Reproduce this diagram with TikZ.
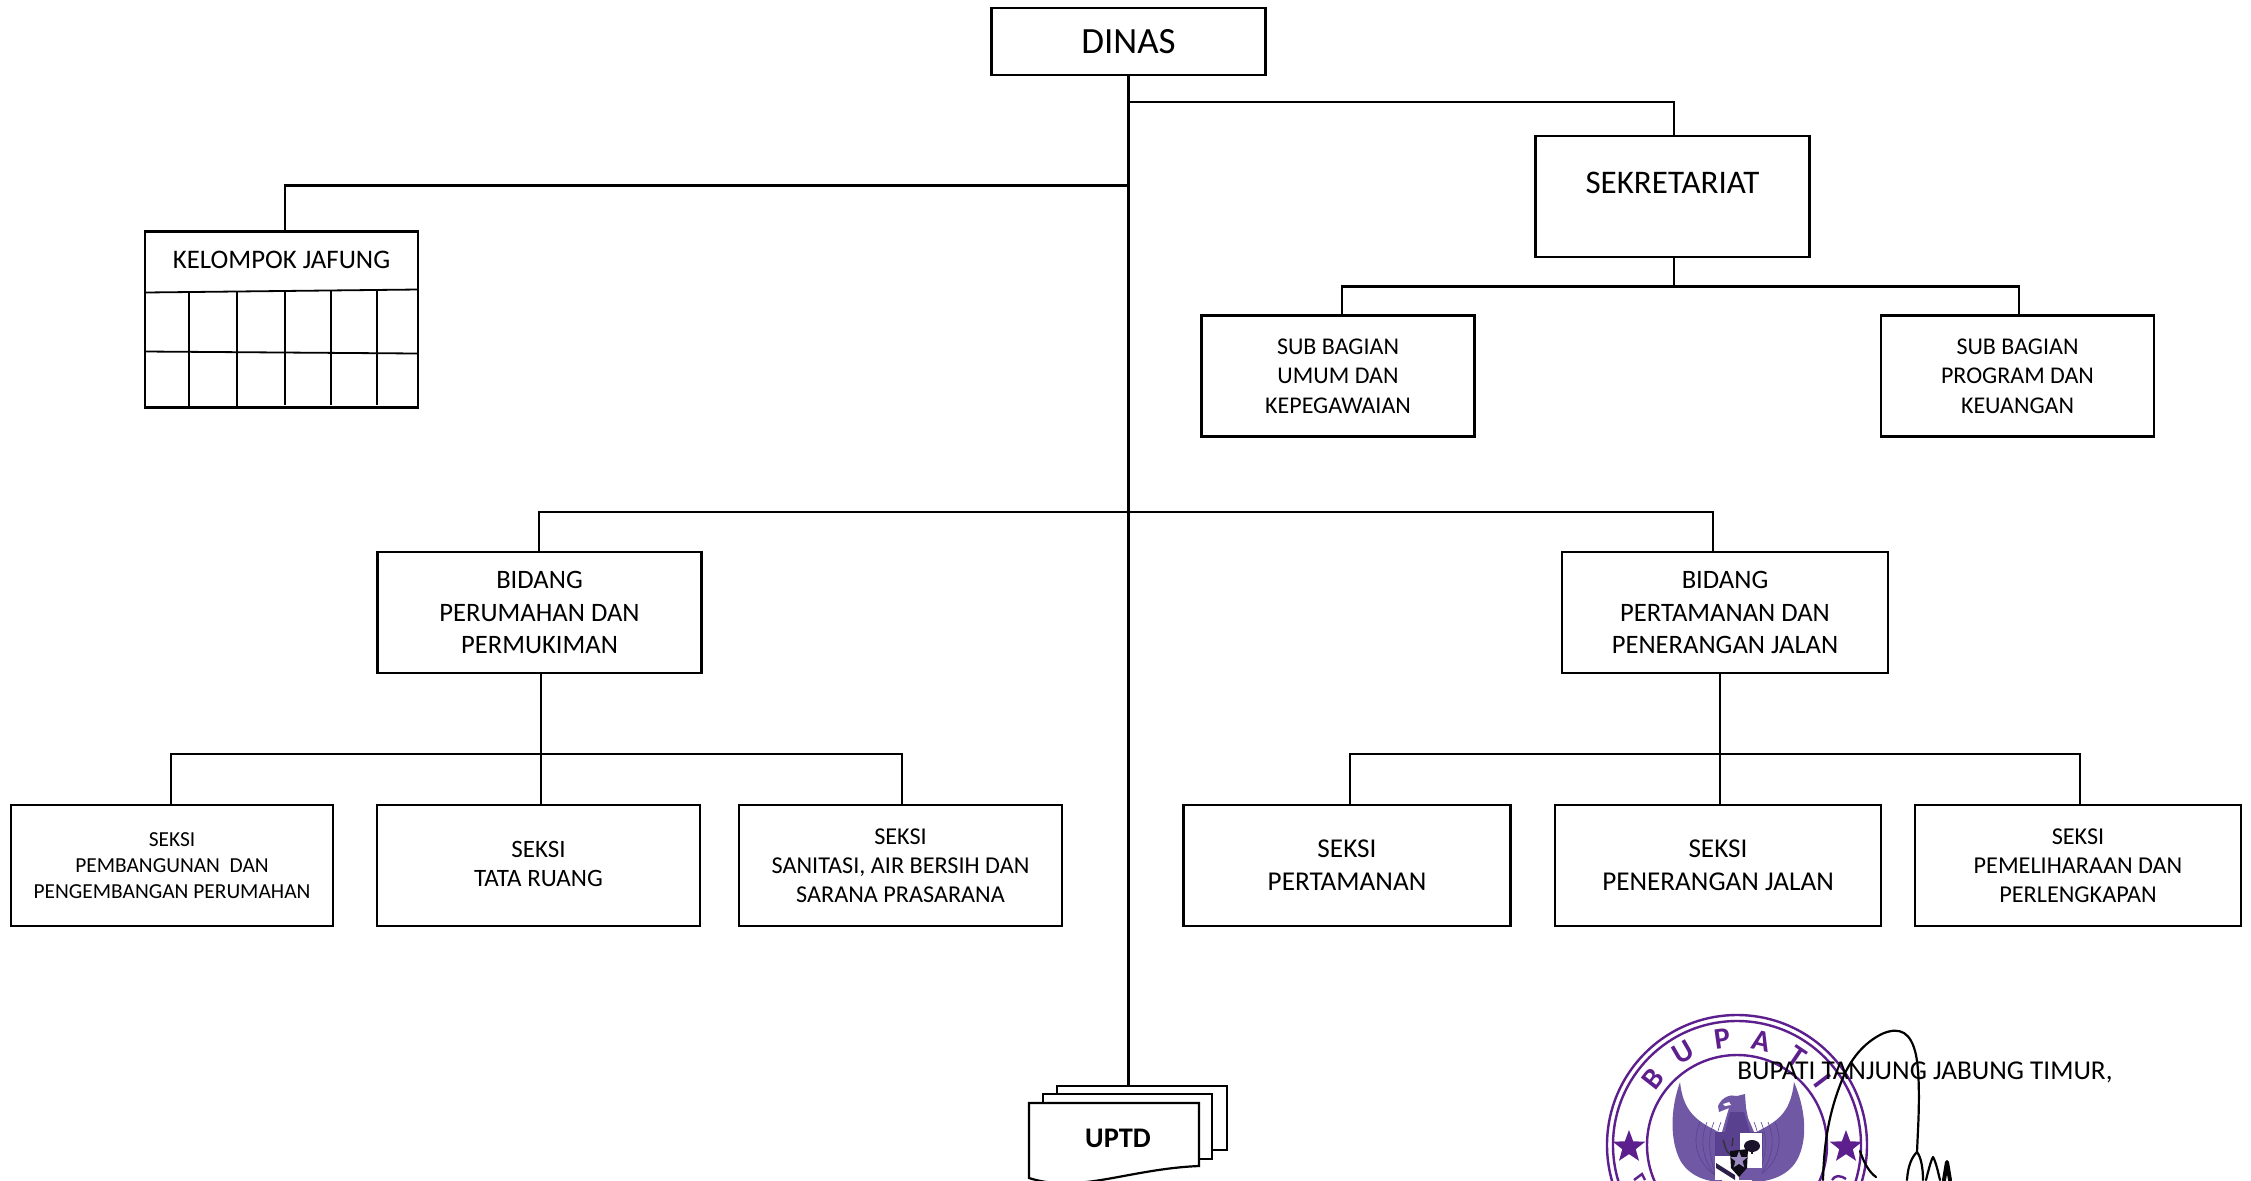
\documentclass[tikz,border=0pt]{standalone}
\usepackage{fontspec}
\setmainfont{Carlito}
\usetikzlibrary{shapes.geometric}
\definecolor{sealp}{HTML}{5E1F8E}
\definecolor{eagle}{HTML}{7058A4}
\definecolor{eagled}{HTML}{5A4190}
\newcommand{\fs}[2]{\fontsize{#1pt}{#2pt}\selectfont}
\tikzset{
  orgbox/.style={draw=black,line width=1.1pt,rectangle,align=center,inner sep=0pt,fill=white},
  wire/.style={draw=black,line width=1.1pt},
  sealring/.style={draw=sealp,line width=1.2pt},
  sealletter/.style={text=sealp,font=\bfseries\fs{15}{15},inner sep=0pt},
  feather/.style={draw=eagled,line width=0.3pt},
  sign/.style={draw=black,line width=1.1pt,line cap=round,line join=round}
}
\begin{document}
\begin{tikzpicture}[x=0.5pt,y=-0.5pt]
\useasboundingbox (0,0) rectangle (2251,1180);
\clip (0,0) rectangle (2251,1180);
\fill[white] (0,0) rectangle (2251,1180);
% seal
\draw[sealring] (1737,1145) circle (130);
\draw[sealring] (1737,1145) circle (124);
\draw[sealring] (1737,1145) circle (90);
\foreach \ch/\ang in {B/142,U/120,P/98,A/77,T/56,I/37}{
  \node[sealletter,rotate=\ang-90] (seal\ch) at ({1737+107*cos(\ang)},{1145-107*sin(\ang)}) {\ch};
}
\node[star,star points=5,star point ratio=2.4,fill=sealp,inner sep=0pt,minimum size=17pt] (starL) at (1629,1147) {};
\node[star,star points=5,star point ratio=2.4,fill=sealp,inner sep=0pt,minimum size=17pt] (starR) at (1846,1147) {};
\draw[sealp,line width=1.2pt] (1634,1180) -- (1642,1174) -- (1645,1180);
\draw[sealp,line width=1.2pt] (1832,1180) .. controls (1835,1175) and (1840,1175) .. (1846,1179);
% eagle wings
\fill[eagle] (1680,1082) .. controls (1670,1110) and (1670,1140) .. (1680,1160)
  .. controls (1690,1178) and (1710,1182) .. (1722,1182) -- (1722,1135)
  -- (1715,1130) .. controls (1695,1120) and (1683,1110) .. (1680,1082) -- cycle;
\fill[eagle] (1794,1082) .. controls (1806,1110) and (1808,1140) .. (1797,1160)
  .. controls (1787,1178) and (1765,1182) .. (1752,1182) -- (1752,1135)
  -- (1760,1130) .. controls (1780,1120) and (1791,1110) .. (1794,1082) -- cycle;
\foreach \d in {0,7,14,21}{
  \draw[feather] (1700+\d,1122) .. controls (1690+\d,1145) and (1700+\d,1165) .. (1715,1175);
  \draw[feather] (1775-\d,1122) .. controls (1785-\d,1145) and (1775-\d,1165) .. (1760,1175);
}
% eagle body and head
\fill[eagle] (1722,1132) -- (1726,1118) -- (1729,1108) -- (1719,1112) -- (1718,1106)
  .. controls (1722,1097) and (1730,1094) .. (1737,1096) -- (1745,1094) -- (1746,1108)
  -- (1748,1118) -- (1754,1132) -- cycle;
\fill[eagled] (1725,1132) -- (1730,1112) -- (1744,1112) -- (1750,1132) -- cycle;
\fill[white] (1723,1104) -- (1729,1102) -- (1731,1105) -- (1725,1106) -- cycle;
% shield
\fill[eagled] (1715,1132) rectangle (1739,1156);
\fill[white,draw=eagled,line width=0.4pt] (1739,1132) rectangle (1762,1156);
\fill[black!70!eagled] (1752,1146) ellipse (8 and 6);
\fill[black!70!eagled] (1751,1146) rectangle (1753,1154);
\draw[black!80,line width=0.7pt] (1723,1140) .. controls (1726,1146) and (1724,1150) .. (1730,1154);
\draw[black!80,line width=0.7pt] (1733,1138) -- (1732,1146);
\fill[white] (1715,1156) rectangle (1738,1180);
\fill[eagled!50!black] (1716,1163) -- (1735,1175) -- (1735,1180) -- (1716,1168) -- cycle;
\fill[white] (1739,1156) rectangle (1762,1170);
\fill[eagle] (1739,1168) rectangle (1762,1180);
\fill[black!85!eagled] (1730,1151) -- (1748,1149) -- (1747,1168) -- (1739,1177) -- (1731,1168) -- cycle;
\node[star,star points=5,star point ratio=2.4,fill=eagle!70!white,inner sep=0pt,minimum size=9pt] (starC) at (1739,1160) {};
% signature
\draw[sign] (1823,1180) .. controls (1824,1145) and (1828,1115) .. (1842,1080)
  .. controls (1852,1055) and (1868,1040) .. (1884,1033)
  .. controls (1900,1027) and (1911,1032) .. (1916,1055)
  .. controls (1920,1075) and (1919,1110) .. (1918,1130) -- (1917,1152);
\draw[sign] (1907,1180) .. controls (1908,1165) and (1912,1157) .. (1917,1152)
  .. controls (1921,1157) and (1923,1168) .. (1923,1180);
\draw[sign] (1926,1180) .. controls (1928,1172) and (1931,1160) .. (1933,1157)
  .. controls (1936,1162) and (1938,1172) .. (1940,1180);
\draw[sign,line width=2pt] (1944,1180) -- (1947,1162) -- (1950,1180);
\draw[sign] (1860,1151) .. controls (1864,1163) and (1869,1172) .. (1876,1177);
% boxes
\node[orgbox,minimum width=137pt,minimum height=33.5pt,font=\fs{18.5}{20}] (dinas) at (1128.5,41.5) {DINAS};
\node[orgbox,minimum width=137pt,minimum height=60.5pt,font=\fs{16.5}{18}] (sekr) at (1672.5,196.5) {\smash{\raisebox{1.5pt}{SEKRETARIAT}}};
\node[orgbox,minimum width=136.5pt,minimum height=60.5pt,font=\fs{12}{14.7}] (subA) at (1338,376) {SUB BAGIAN\\UMUM DAN\\KEPEGAWAIAN};
\node[orgbox,minimum width=136.5pt,minimum height=60.5pt,font=\fs{12}{14.7}] (subB) at (2017.5,376) {SUB BAGIAN\\PROGRAM DAN\\KEUANGAN};
\node[orgbox,minimum width=136.5pt,minimum height=88pt,font=\fs{13.4}{14.5}] (jaf) at (281.5,319.5) {\smash{\raisebox{25.5pt}{KELOMPOK JAFUNG}}};
\node[orgbox,minimum width=162pt,minimum height=60.5pt,font=\fs{13.3}{16.2}] (bidL) at (539.5,612.5) {BIDANG\\PERUMAHAN DAN\\PERMUKIMAN};
\node[orgbox,minimum width=163pt,minimum height=60.5pt,font=\fs{13.3}{16.2}] (bidR) at (1725,612.5) {BIDANG\\PERTAMANAN DAN\\PENERANGAN JALAN};
\node[orgbox,minimum width=161pt,minimum height=60.5pt,font=\fs{10.7}{13}] (sA) at (172,865.5) {SEKSI\\PEMBANGUNAN\ \ DAN\\PENGEMBANGAN PERUMAHAN};
\node[orgbox,minimum width=161.5pt,minimum height=60.5pt,font=\fs{12.5}{14.5}] (sB) at (538.5,865.5) {\raisebox{1.5pt}{SEKSI}\\\raisebox{1.5pt}{TATA RUANG}};
\node[orgbox,minimum width=161.5pt,minimum height=60.5pt,font=\fs{12.1}{14.5}] (sC) at (900.5,865.5) {SEKSI\\SANITASI, AIR BERSIH DAN\\SARANA PRASARANA};
\node[orgbox,minimum width=163.5pt,minimum height=60.5pt,font=\fs{13.6}{16.5}] (sD) at (1347,865.5) {SEKSI\\PERTAMANAN};
\node[orgbox,minimum width=163pt,minimum height=60.5pt,font=\fs{13.6}{16.5}] (sE) at (1718,865.5) {SEKSI\\PENERANGAN JALAN};
\node[orgbox,minimum width=163pt,minimum height=60.5pt,font=\fs{12.1}{14.5}] (sF) at (2078,865.5) {SEKSI\\PEMELIHARAAN DAN\\PERLENGKAPAN};
% UPTD
\node[orgbox,minimum width=85pt,minimum height=32pt] (uptdA) at (1142,1118) {};
\node[orgbox,minimum width=84.5pt,minimum height=32.5pt] (uptdB) at (1127.5,1126.5) {};
\draw[orgbox] (1029,1103) -- (1199,1103) -- (1199,1166)
  .. controls (1150,1168) and (1110,1181) .. (1075,1183)
  .. controls (1060,1184) and (1045,1183) .. (1029,1178) -- cycle;
\node[font=\bfseries\fs{14.2}{16},inner sep=0pt] (uptdT) at (1118,1138) {UPTD};
% junctions
\coordinate (jSek) at (1128.5,102);
\coordinate (jJaf) at (1128.5,185.5);
\coordinate (jBid) at (1128.5,512);
\coordinate (jSub) at (1674,286.5);
\coordinate (jL) at (541,754);
\coordinate (jR) at (1720,754);
\coordinate (topJaf) at (285,231);
% wires
\draw[wire] (dinas.south) -- (uptdA.north -| dinas.south);
\draw[wire] (jSek) -| (1674,136);
\draw[wire] (jJaf) -| (topJaf);
\draw[wire] (1674,257) -- (jSub);
\draw[wire] (1342,316) |- (jSub) -| (2019,316);
\draw[wire] (539,552) |- (jBid) -| (1713,552);
\draw[wire] (541,673) -- (541,805);
\draw[wire] (1720,673) -- (1720,805);
\draw[wire] (171,805) |- (jL) -| (902,805);
\draw[wire] (1350,805) |- (jR) -| (2080,805);
% jafung grid
\draw[wire,line width=0.9pt] (145,292.5) -- (418,289.5);
\draw[wire,line width=0.9pt] (145,351.5) -- (418,353.5);
\draw[wire,line width=0.9pt] (189,292) -- (189,408);
\draw[wire,line width=0.9pt] (237,291) -- (237,408);
\draw[wire,line width=0.9pt] (285,290) -- (285,405);
\draw[wire,line width=0.9pt] (331,290) -- (331,405);
\draw[wire,line width=0.9pt] (377,290) -- (377,405);
% signature caption
\node[font=\fs{13.6}{15},inner sep=0pt,anchor=west] (bupati) at (1737,1072) {BUPATI TANJUNG JABUNG TIMUR,};
\end{tikzpicture}
\end{document}
